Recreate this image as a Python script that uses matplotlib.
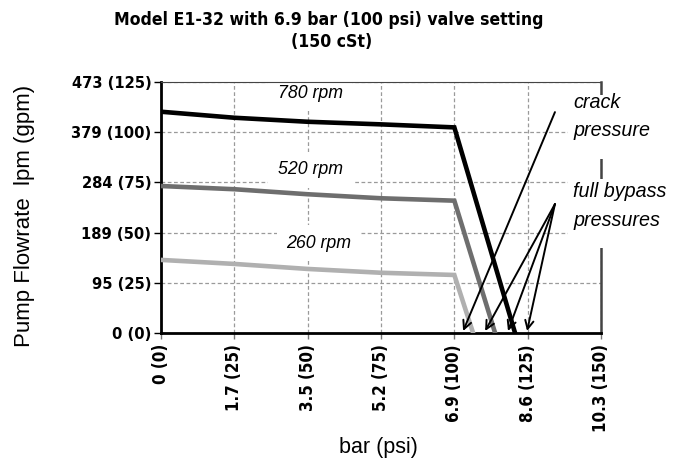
import matplotlib
matplotlib.use("Agg")
from matplotlib import pyplot as plt
from matplotlib import font_manager
from matplotlib.patches import Rectangle
import numpy as np

# Datos (presion en psi, caudal en gpm)
presion = [0, 25, 50, 75, 100]
caudal_780 = [110.2, 107.2, 105.2, 103.9, 102.4]
caudal_520 = [73.2, 71.6, 69.1, 67.1, 65.9]
caudal_260 = [36.4, 34.4, 31.9, 30.0, 28.9]
bypass_780 = 120.7
bypass_520 = 113.9
bypass_260 = 106.4

etiquetas_rpm = ["780 rpm", "520 rpm", "260 rpm"]
pos_etiquetas = [(50.8, 119.5), (51.0, 81.2), (53.9, 44.8)]

x_ticks = [0, 25, 50, 75, 100, 125, 150]
x_labels = ["0 (0)", "1.7 (25)", "3.5 (50)", "5.2 (75)", "6.9 (100)", "8.6 (125)", "10.3 (150)"]
y_ticks = [0, 25, 50, 75, 100, 125]
y_labels = ["0 (0)", "95 (25)", "189 (50)", "284 (75)", "379 (100)", "473 (125)"]

# flechas: origen del texto -> puntas
origen_crack = (134.3, 110.0)
puntas_crack = [(103.0, 1.0)]
origen_bypass = (134.3, 64.2)
puntas_bypass = [(110.5, 1.0), (118.3, 1.0), (124.8, 1.0)]


# Busca una fuente condensada en negrita
def fuente_condensada():
    for f in font_manager.fontManager.ttflist:
        nombre = f.fname.split("/")[-1]
        if nombre == "DejaVuSansCondensed-Bold.ttf":
            return font_manager.FontProperties(fname=f.fname), 1.0
    for f in font_manager.fontManager.ttflist:
        nombre = f.fname.split("/")[-1]
        if nombre == "LiberationSansNarrow-Bold.ttf":
            return font_manager.FontProperties(fname=f.fname), 1.15
    return font_manager.FontProperties(family="DejaVu Sans", weight="bold"), 0.9


fp_cond, escala = fuente_condensada()

W, H = 686, 462
fig = plt.figure(figsize=(6.86, 4.62), dpi=100)
ax = fig.add_axes([161 / W, 1 - 333 / H, 440 / W, 251 / H])

colores = ["#000000", "#6e6e6e", "#b0b0b0"]
series = [(caudal_780, bypass_780), (caudal_520, bypass_520), (caudal_260, bypass_260)]
for (caudal, fin), color in zip(series, colores):
    xs = presion + [fin]
    ys = caudal + [0]
    ax.plot(xs, ys, color=color, lw=3.3, solid_joinstyle="miter", zorder=3)

for texto, (px, py) in zip(etiquetas_rpm, pos_etiquetas):
    ax.text(px, py, texto, ha="center", va="center", fontsize=12.8, style="italic",
            family="Liberation Sans",
            bbox=dict(boxstyle="square,pad=0.55", fc="white", ec="none"), zorder=2.2)

for punta in puntas_crack:
    ax.annotate("", xy=punta, xytext=origen_crack, annotation_clip=False,
                arrowprops=dict(arrowstyle="->", lw=1.4, color="black",
                                shrinkA=0, shrinkB=0, mutation_scale=15), zorder=4)
for punta in puntas_bypass:
    ax.annotate("", xy=punta, xytext=origen_bypass, annotation_clip=False,
                arrowprops=dict(arrowstyle="->", lw=1.4, color="black",
                                shrinkA=0, shrinkB=0, mutation_scale=15), zorder=4)

# fondos blancos de las notas (tapan el eje derecho como en el original)
for y0, y1 in [(95, 159), (179, 248)]:
    ax.add_artist(Rectangle((568 / W, 1 - y1 / H), (W - 568) / W, (y1 - y0) / H,
                            transform=fig.transFigure, fc="white", ec="none",
                            clip_on=False, zorder=4.5))

ax.text(140.5, 107.8, "crack\npressure", ha="left", va="center", fontsize=14.2,
        style="italic", family="Liberation Sans", linespacing=1.65, clip_on=False,
        zorder=5)
ax.text(140.5, 63.2, "full bypass\npressures", ha="left", va="center", fontsize=14.2,
        style="italic", family="Liberation Sans", linespacing=1.65, clip_on=False,
        zorder=5)

ax.set_xlim(0, 150)
ax.set_ylim(0, 125)
ax.set_xticks(x_ticks)
ax.set_yticks(y_ticks)
ax.set_xticklabels(x_labels, rotation=90, fontproperties=fp_cond)
ax.set_yticklabels(y_labels, fontproperties=fp_cond)
for lab in ax.get_xticklabels():
    lab.set_fontsize(12.2 * escala)
for lab in ax.get_yticklabels():
    lab.set_fontsize(11.8 * escala)

ax.grid(True, color="#9a9a9a", linestyle=(0, (3, 2)), lw=0.9)
ax.set_axisbelow(True)

ax.tick_params(axis="y", direction="out", length=5, width=1, color="black", pad=2)
ax.tick_params(axis="x", direction="out", length=4, width=1, color="#777777", pad=4)

ax.spines["left"].set_linewidth(2)
ax.spines["bottom"].set_linewidth(2)
ax.spines["top"].set_linewidth(0.8)
ax.spines["top"].set_color("#444444")
ax.spines["right"].set_linewidth(1.8)
ax.spines["right"].set_color("#444444")

fig.text(329 / W, 1 - 20 / H, "Model E1-32 with 6.9 bar (100 psi) valve setting",
         ha="center", va="center", fontproperties=fp_cond, fontsize=12.6 * escala)
fig.text(332 / W, 1 - 42 / H, "(150 cSt)", ha="center", va="center",
         fontproperties=fp_cond, fontsize=12.6 * escala)

fig.text(25 / W, 1 - 216 / H, "Pump Flowrate  lpm (gpm)", rotation=90,
         ha="center", va="center", fontsize=16, family="Liberation Sans")
fig.text(378 / W, 1 - 447 / H, "bar (psi)", ha="center", va="center",
         fontsize=15.5, family="Liberation Sans")

fig.savefig("out.png", dpi=100)
